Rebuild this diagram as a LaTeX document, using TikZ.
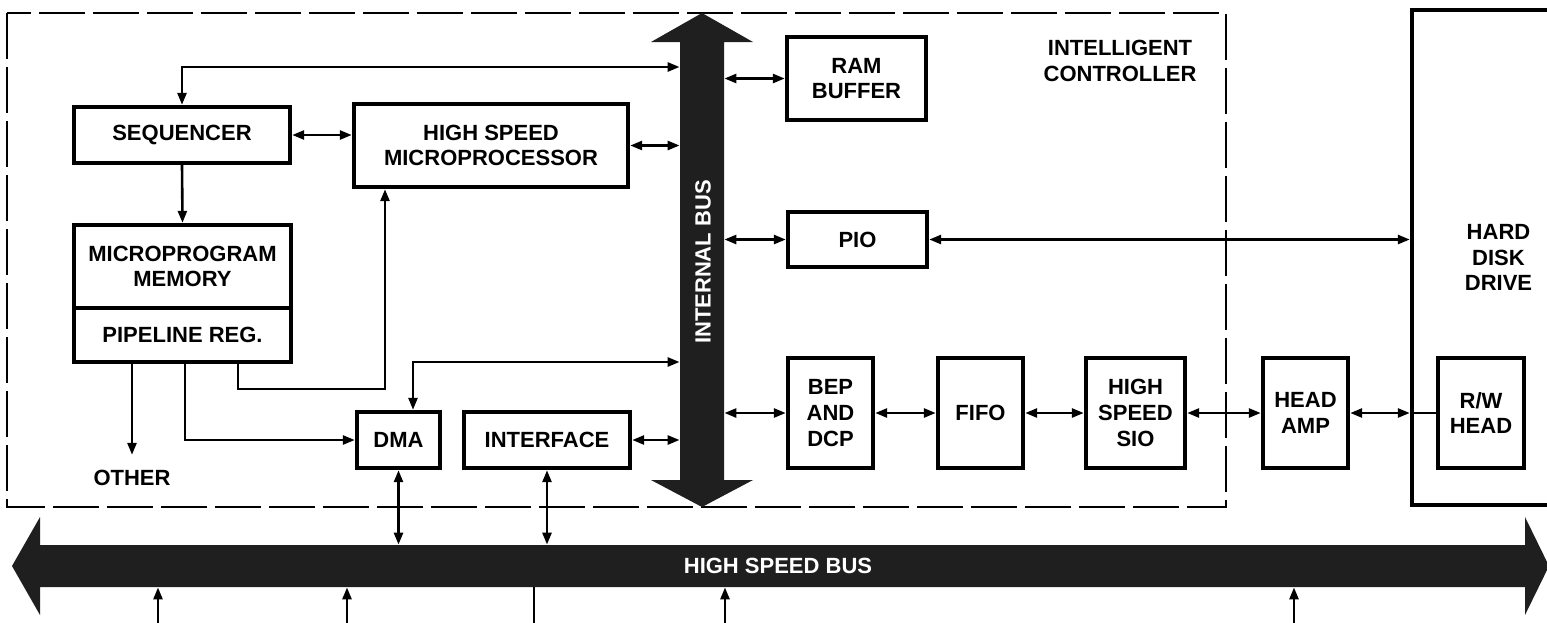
\documentclass[tikz,border=0pt]{standalone}
\usepackage{fontspec}
\setmainfont{Liberation Sans}
\usetikzlibrary{arrows.meta}
\definecolor{busfill}{gray}{0.12}
\tikzset{
  blk/.style={draw, line width=2.2pt, align=center, inner sep=0pt,
    font=\bfseries\fontsize{11}{12.8}\selectfont},
  lbl/.style={align=center, inner sep=0pt, font=\bfseries\fontsize{11}{12.8}\selectfont},
  buslbl/.style={text=white, inner sep=0pt, font=\bfseries\fontsize{11}{12.8}\selectfont},
  con/.style={line width=1.3pt},
  ctrlbox/.style={line width=1.4pt, dash pattern=on 23pt off 4pt},
  >={Triangle[length=6pt,width=4.5pt]},
}
\begin{document}
\begin{tikzpicture}[x=0.5pt,y=-0.5pt]
\useasboundingbox (0,0) rectangle (1547,622);
\clip (0,0) rectangle (1547,622);

% intelligent controller outline
\draw[ctrlbox] (7,13) rectangle (1226,507);

% internal bus
\fill[busfill] (702,13) -- (753,42) -- (724,42) -- (724,480) -- (753,480) -- (702,507)
  -- (651,480) -- (680,480) -- (680,42) -- (651,42) -- cycle;
\node[inner sep=0pt, minimum width=22pt, minimum height=219pt] (ibus) at (702,261) {};
\node[buslbl, rotate=90] (ibl) at (703,262) {INTERNAL BUS};

% high speed bus
\fill[busfill] (12,566) -- (40,517) -- (40,545) -- (1525,545) -- (1525,517) -- (1549,566)
  -- (1525,615) -- (1525,587) -- (40,587) -- (40,615) -- cycle;
\node[inner sep=0pt, minimum width=742.5pt, minimum height=21pt] (hsb) at (782.5,566) {};
\node[buslbl] (hsbl) at (778,566) {HIGH SPEED BUS};

% blocks
\node[blk, minimum width=108pt, minimum height=28pt] (seq) at (182,135) {SEQUENCER};
\node[blk, minimum width=137pt, minimum height=41.5pt] (mpu) at (491,145.5) {HIGH SPEED\\MICROPROCESSOR};
\node[blk, minimum width=69.5pt, minimum height=41.5pt] (ram) at (856.5,78.5) {RAM\\BUFFER};
\node[blk, minimum width=69.5pt, minimum height=27.5pt] (pio) at (857.5,239.5) {PIO};
\node[blk, minimum width=108.5pt, minimum height=41.5pt] (mem) at (182.5,266.5) {MICROPROGRAM\\MEMORY};
\node[blk, minimum width=108.5pt, minimum height=27pt] (pipe) at (182.5,335) {PIPELINE REG.};
\node[blk, minimum width=41.5pt, minimum height=28pt] (dma) at (398.5,440) {DMA};
\node[blk, minimum width=83pt, minimum height=28pt] (intf) at (547,440) {INTERFACE};
\node[blk, minimum width=42.5pt, minimum height=55pt] (bep) at (830.5,413) {BEP\\AND\\DCP};
\node[blk, minimum width=42.5pt, minimum height=55pt] (fifo) at (980.5,413) {FIFO};
\node[blk, minimum width=49.5pt, minimum height=55pt] (sio) at (1135.5,413) {HIGH\\SPEED\\SIO};
\node[blk, minimum width=42.5pt, minimum height=55pt] (amp) at (1305.5,413) {HEAD\\AMP};
\node[blk, minimum width=86.5pt, minimum height=247.5pt] (hdd) at (1498.5,257.5) {HARD\\DISK\\DRIVE};
\node[blk, minimum width=43pt, minimum height=55pt] (rw) at (1481,413) {R/W\\HEAD};

% labels
\node[lbl] (ic) at (1120,61) {INTELLIGENT\\CONTROLLER};
\node[lbl] (oth) at (132,478) {OTHER};

% helper coordinates
\coordinate (ctop) at (182,67);
\coordinate (p3) at (238,389);
\coordinate (p3b) at (385,389);
\coordinate (p2) at (185,443);
\coordinate (dtop) at (413,362);
\coordinate (b1) at (158,626);
\coordinate (b2) at (347,626);
\coordinate (b3) at (534,626);
\coordinate (b4) at (725,626);
\coordinate (b5) at (1294,626);

% connectors
\draw[con,<->] (seq.north) -- (ctop) -- (ibus.west |- ctop);
\draw[con,<->] (seq.east) -- (mpu.west |- seq.east);
\draw[con,<->] (mpu.east) -- (ibus.west |- mpu.east);
\draw[con,->] (seq.south) -- (mem.north);
\draw[con,<->] (ram.west) -- (ibus.east |- ram.west);
\draw[con,<->] (pio.west) -- (ibus.east |- pio.west);
\draw[con,<->] (pio.east) -- (hdd.west |- pio.east);
\draw[con,->] (pipe.south -| p3) |- (p3b) -- (mpu.south -| p3b);
\draw[con,->,shorten >=7.5pt] (pipe.south -| oth) -- (oth.north);
\draw[con,->] (pipe.south -| p2) |- (dma.west);
\draw[con,<->] (dma.north -| dtop) -- (dtop) -- (ibus.west |- dtop);
\draw[con,<->] (intf.east) -- (ibus.west |- intf.east);
\draw[con,<->] (dma.south) -- (hsb.north -| dma.south);
\draw[con,<->] (intf.south) -- (hsb.north -| intf.south);
\draw[con,<->] (ibus.east |- bep.west) -- (bep.west);
\draw[con,<->] (bep.east) -- (fifo.west);
\draw[con,<->] (fifo.east) -- (sio.west);
\draw[con,<->] (sio.east) -- (amp.west);
\draw[con,<->] (amp.east) -- (hdd.west |- amp.east);
\draw[con] (hdd.west |- amp.east) -- (rw.west);
\draw[con,->] (b1) -- (hsb.south -| b1);
\draw[con,->] (b2) -- (hsb.south -| b2);
\draw[con] (b3) -- (hsb.south -| b3);
\draw[con,->] (b4) -- (hsb.south -| b4);
\draw[con,->] (b5) -- (hsb.south -| b5);
\end{tikzpicture}
\end{document}
